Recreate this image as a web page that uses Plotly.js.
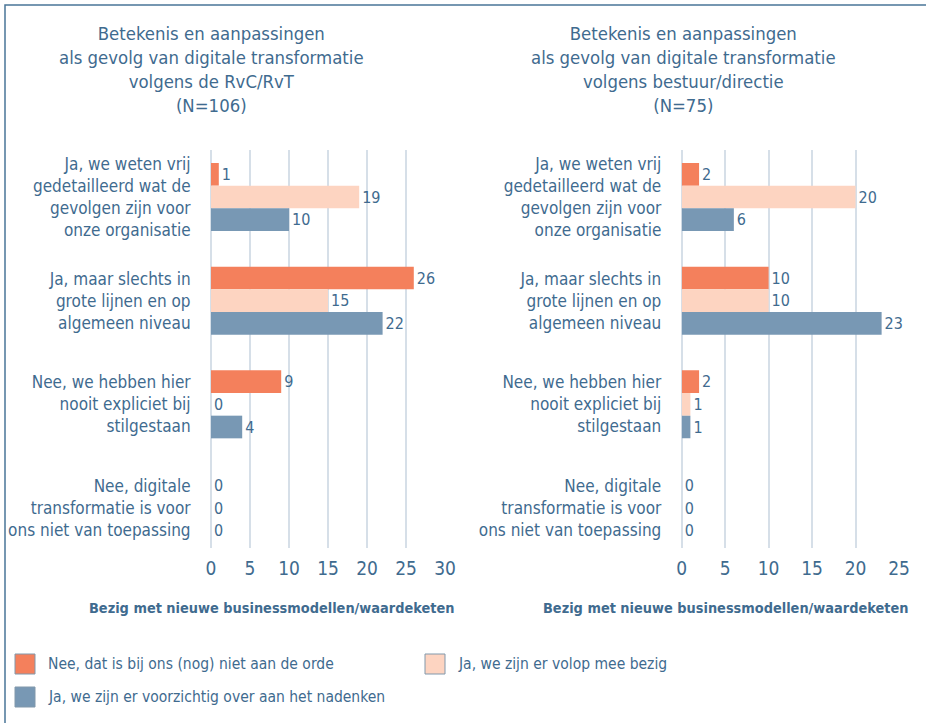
<!DOCTYPE html>
<html>
<head>
<meta charset="utf-8">
<script src="https://cdn.plot.ly/plotly-3.0.1.min.js"></script>
<style>
html,body{margin:0;padding:0;background:#fff;}
#chart{width:926px;height:723px;}
</style>
</head>
<body>
<div id="chart"></div>
<script>
// ---- data ----
const categories = [
  "Ja, we weten vrij<br>gedetailleerd wat de<br>gevolgen zijn voor<br>onze organisatie",
  "Ja, maar slechts in<br>grote lijnen en op<br>algemeen niveau",
  "Nee, we hebben hier<br>nooit expliciet bij<br>stilgestaan",
  "Nee, digitale<br>transformatie is voor<br>ons niet van toepassing"
];
const seriesNames = [
  "Nee, dat is bij ons (nog) niet aan de orde",
  "Ja, we zijn er volop mee bezig",
  "Ja, we zijn er voorzichtig over aan het nadenken"
];
const leftOrange = [1, 26, 9, 0];
const leftPeach  = [19, 15, 0, 0];
const leftBlue   = [10, 22, 4, 0];
const rightOrange = [2, 10, 2, 0];
const rightPeach  = [20, 10, 1, 0];
const rightBlue   = [6, 23, 1, 0];
const leftTitle = "Betekenis en aanpassingen<br>als gevolg van digitale transformatie<br>volgens de RvC/RvT<br>(N=106)";
const rightTitle = "Betekenis en aanpassingen<br>als gevolg van digitale transformatie<br>volgens bestuur/directie<br>(N=75)";
const xTitle = "Bezig met nieuwe businessmodellen/waardeketen";

// ---- style ----
const W = 926, H = 723;
const FONT = '"Liberation Sans Narrow", "DejaVu Sans Condensed", "Roboto", sans-serif';
const TXT = '#3f6b8f';
const colors = ['#f4805c', '#fdd4c1', '#7898b4'];
const GRID = '#d6dfe8';
const px = v => v / W;
const py = v => 1 - v / H;

const leftSeries = [leftOrange, leftPeach, leftBlue];
const rightSeries = [rightOrange, rightPeach, rightBlue];

const traces = [];
function addPanel(series, xa, ya) {
  series.forEach((vals, i) => {
    traces.push({
      type: 'bar', orientation: 'h',
      x: vals, y: categories,
      xaxis: xa, yaxis: ya,
      name: seriesNames[i], showlegend: false,
      marker: {color: colors[i]},
      text: vals.map(String), textposition: 'outside',
      textfont: {family: FONT, size: 16, color: TXT},
      constraintext: 'none', cliponaxis: false,
      hoverinfo: 'x+name'
    });
  });
}
addPanel(leftSeries, 'x', 'y');
addPanel(rightSeries, 'x2', 'y2');

const yTop = 150, yBot = 548, c0 = 197, step = 103.67;
const yRange = [(yBot - c0) / step, (yTop - c0) / step];

const xCommon = {
  dtick: 5, tick0: 0, showgrid: true, gridcolor: GRID, gridwidth: 2,
  zeroline: true, zerolinecolor: GRID, zerolinewidth: 2, showline: false,
  ticks: 'outside', ticklen: 3, tickcolor: 'rgba(0,0,0,0)',
  tickfont: {family: FONT, size: 19, color: TXT}, fixedrange: true
};
const yCommon = {
  type: 'category', range: yRange, showgrid: false, zeroline: false, showline: false,
  ticks: 'outside', ticklen: 16, tickcolor: 'rgba(0,0,0,0)',
  tickfont: {family: FONT, size: 17, color: TXT},
  domain: [py(yBot), py(yTop)], fixedrange: true
};

const annotations = [
  {text: leftTitle, x: px(211), y: py(21), xref: 'paper', yref: 'paper', xanchor: 'center', yanchor: 'top',
   showarrow: false, align: 'center', font: {family: FONT, size: 18.4, color: TXT}},
  {text: rightTitle, x: px(683), y: py(21), xref: 'paper', yref: 'paper', xanchor: 'center', yanchor: 'top',
   showarrow: false, align: 'center', font: {family: FONT, size: 18.4, color: TXT}},
  {text: '<b>' + xTitle + '</b>', x: px(271), y: py(608), xref: 'paper', yref: 'paper', xanchor: 'center', yanchor: 'middle',
   showarrow: false, font: {family: FONT, size: 14.4, color: TXT}},
  {text: '<b>' + xTitle + '</b>', x: px(725), y: py(608), xref: 'paper', yref: 'paper', xanchor: 'center', yanchor: 'middle',
   showarrow: false, font: {family: FONT, size: 14.4, color: TXT}}
];

// legend built from series arrays
const legendPos = [[15, 664], [425, 664], [15, 697]];
const shapes = [
  {type: 'rect', xref: 'paper', yref: 'paper', x0: px(5), x1: 1.2, y0: -0.2, y1: py(5),
   line: {color: '#4a7598', width: 1.5}, fillcolor: 'rgba(0,0,0,0)', layer: 'below'}
];
seriesNames.forEach((nm, i) => {
  const [lx, ly] = legendPos[i];
  shapes.push({type: 'rect', xref: 'paper', yref: 'paper',
    x0: px(lx), x1: px(lx + 20), y0: py(ly + 10), y1: py(ly - 10),
    fillcolor: colors[i], line: {color: '#8198ab', width: 1}});
  annotations.push({text: nm, x: px(lx + 31), y: py(ly), xref: 'paper', yref: 'paper',
    xanchor: 'left', yanchor: 'middle', showarrow: false,
    font: {family: FONT, size: 15.5, color: TXT}});
});

const layout = {
  width: W, height: H,
  margin: {l: 0, r: 0, t: 0, b: 0},
  paper_bgcolor: '#fff', plot_bgcolor: '#fff',
  barmode: 'group', bargap: 0.344, bargroupgap: 0,
  showlegend: false,
  xaxis: Object.assign({}, xCommon, {domain: [px(211), px(445)], range: [0, 30], anchor: 'y'}),
  yaxis: Object.assign({}, yCommon, {anchor: 'x'}),
  xaxis2: Object.assign({}, xCommon, {domain: [px(681.7), px(899)], range: [0, 25], anchor: 'y2'}),
  yaxis2: Object.assign({}, yCommon, {anchor: 'x2'}),
  annotations: annotations,
  shapes: shapes,
  font: {family: FONT, color: TXT}
};

Plotly.newPlot('chart', traces, layout, {displayModeBar: false, staticPlot: true});
</script>
</body>
</html>
